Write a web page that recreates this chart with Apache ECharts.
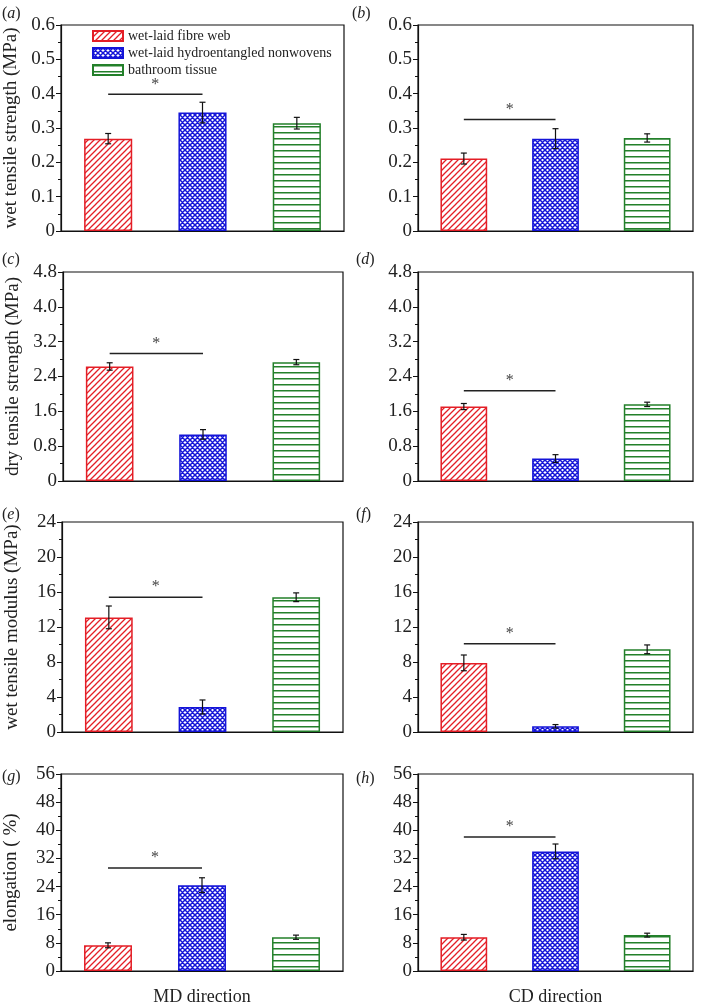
<!DOCTYPE html>
<html>
<head>
<meta charset="utf-8">
<script src="https://cdn.jsdelivr.net/npm/echarts@6/dist/echarts.min.js"></script>
<style>
html,body{margin:0;padding:0;background:#fff;}
#chart{width:701px;height:1007px;}
</style>
</head>
<body>
<div id="chart"></div>
<script>
// ---- data ----
const categories = ['wet-laid fibre web', 'wet-laid hydroentangled nonwovens', 'bathroom tissue'];
const panelLetters = ['a', 'b', 'c', 'd', 'e', 'f', 'g', 'h'];
const yMax = [0.6, 0.6, 4.8, 4.8, 24, 24, 56, 56];
const yInterval = [0.1, 0.1, 0.8, 0.8, 4, 4, 8, 8];
const yDecimals = [1, 1, 1, 1, 0, 0, 0, 0];
const yNames = ['wet tensile strength (MPa)', '', 'dry tensile strength (MPa)', '', 'wet tensile modulus (MPa)', '', 'elongation ( %)', ''];
const xNames = ['', '', '', '', '', '', 'MD direction', 'CD direction'];
const fibreWeb = [0.269, 0.211, 2.63, 1.71, 13.1, 7.9, 7.3, 9.6];
const fibreWebErr = [0.015, 0.016, 0.085, 0.07, 1.3, 0.9, 0.7, 0.8];
const hydro = [0.345, 0.269, 1.07, 0.515, 2.86, 0.65, 24.4, 34.0];
const hydroErr = [0.03, 0.029, 0.11, 0.09, 0.8, 0.2, 2.1, 2.1];
const tissue = [0.314, 0.271, 2.73, 1.76, 15.4, 9.45, 9.6, 10.2];
const tissueErr = [0.017, 0.012, 0.06, 0.05, 0.5, 0.5, 0.6, 0.55];
const sigLevel = [0.398, 0.325, 2.93, 2.07, 15.4, 10.1, 29.3, 38.1];

// ---- layout ----
const grids = [
  {left: 61, top: 25, width: 283, height: 206},
  {left: 418, top: 25, width: 275, height: 206},
  {left: 63, top: 272, width: 280, height: 209},
  {left: 418, top: 272, width: 275, height: 209},
  {left: 62, top: 522, width: 281, height: 210},
  {left: 418, top: 522, width: 275, height: 210},
  {left: 61, top: 774, width: 282, height: 206},
  {left: 418, top: 774, width: 275, height: 206}
];
const labelPos = [[2, 6], [352, 6], [2, 252], [356, 252], [2, 507], [356, 507], [2, 769], [356, 771]];

const FONT = "'Liberation Serif', 'Times New Roman', serif";
const RED = '#e41e26', BLUE = '#1414d8', GREEN = '#23802a';

function makePattern(kind) {
  const c = document.createElement('canvas');
  const ctx = c.getContext('2d');
  if (kind === 'red') {
    c.width = 6; c.height = 6;
    ctx.fillStyle = '#fff'; ctx.fillRect(0, 0, 6, 6);
    ctx.strokeStyle = RED; ctx.lineWidth = 1.3;
    ctx.beginPath();
    ctx.moveTo(-1, 7); ctx.lineTo(7, -1);
    ctx.moveTo(-4, 4); ctx.lineTo(4, -4);
    ctx.moveTo(2, 10); ctx.lineTo(10, 2);
    ctx.stroke();
  } else if (kind === 'blue') {
    c.width = 5; c.height = 5;
    ctx.fillStyle = '#fff'; ctx.fillRect(0, 0, 5, 5);
    ctx.strokeStyle = BLUE; ctx.lineWidth = 1.5;
    ctx.beginPath();
    ctx.moveTo(-1, 6); ctx.lineTo(6, -1);
    ctx.moveTo(-1, -1); ctx.lineTo(6, 6);
    ctx.moveTo(-3.5, 3.5); ctx.lineTo(3.5, -3.5);
    ctx.moveTo(1.5, 8.5); ctx.lineTo(8.5, 1.5);
    ctx.moveTo(-3.5, 1.5); ctx.lineTo(3.5, 8.5);
    ctx.moveTo(1.5, -3.5); ctx.lineTo(8.5, 3.5);
    ctx.stroke();
  } else {
    c.width = 4; c.height = 6;
    ctx.fillStyle = '#fff'; ctx.fillRect(0, 0, 4, 6);
    ctx.fillStyle = GREEN; ctx.fillRect(0, 0, 4, 1.5);
  }
  return {image: c, repeat: 'repeat'};
}
const patterns = [makePattern('red'), makePattern('blue'), makePattern('green')];
const borders = [RED, BLUE, GREEN];
const groupValues = [fibreWeb, hydro, tissue];
const groupErrs = [fibreWebErr, hydroErr, tissueErr];

const option = {
  animation: false,
  backgroundColor: '#fff',
  textStyle: {fontFamily: FONT},
  grid: [], xAxis: [], yAxis: [], series: [],
  legend: {
    data: categories,
    orient: 'vertical',
    left: 92, top: 29, padding: 0,
    icon: 'rect',
    itemWidth: 30, itemHeight: 10, itemGap: 3,
    textStyle: {fontFamily: FONT, fontSize: 14, color: '#222'},
    selectedMode: false
  },
  graphic: []
};

for (let p = 0; p < 8; p++) {
  const g = grids[p];
  const dec = yDecimals[p];
  option.grid.push(Object.assign({show: true, borderColor: '#111', borderWidth: 1.2, backgroundColor: 'transparent'}, g));
  option.xAxis.push({
    type: 'category', gridIndex: p, data: categories, boundaryGap: true,
    axisLine: {lineStyle: {color: '#111', width: 1.2}},
    axisTick: {show: false}, axisLabel: {show: false},
    name: xNames[p], nameLocation: 'middle', nameGap: 17,
    nameTextStyle: {fontFamily: FONT, fontSize: 18, color: '#222'}
  });
  option.yAxis.push({
    type: 'value', gridIndex: p, min: 0, max: yMax[p], interval: yInterval[p],
    axisLine: {show: true, lineStyle: {color: '#111', width: 1.2}},
    axisTick: {show: true, inside: false, length: 5, lineStyle: {color: '#111'}},
    minorTick: {show: true, splitNumber: 2, length: 3, lineStyle: {color: '#111'}},
    splitLine: {show: false},
    axisLabel: {fontFamily: FONT, fontSize: 19, color: '#222', margin: 6,
      formatter: function (v) { return v === 0 ? '0' : v.toFixed(dec); }},
    name: yNames[p], nameLocation: 'middle', nameGap: 40, nameRotate: 90,
    nameTextStyle: {fontFamily: FONT, fontSize: 19, color: '#222'}
  });
  for (let k = 0; k < 3; k++) {
    const d = ['-', '-', '-'];
    d[k] = groupValues[k][p];
    option.series.push({
      type: 'bar', name: categories[k], xAxisIndex: p, yAxisIndex: p,
      data: d, barWidth: '51%', barGap: '-100%',
      itemStyle: {color: patterns[k], borderColor: borders[k], borderWidth: 1.5},
      silent: true
    });
  }
  // error bars
  option.series.push({
    type: 'custom', xAxisIndex: p, yAxisIndex: p, z: 5, silent: true,
    data: [0, 1, 2].map(k => [k, groupValues[k][p], groupErrs[k][p]]),
    renderItem: function (params, api) {
      const x = api.value(0), v = api.value(1), e = api.value(2);
      const top = api.coord([x, v + e]);
      const bot = api.coord([x, v - e]);
      const s = {stroke: '#111', lineWidth: 1.2};
      const cw = 3;
      return {type: 'group', children: [
        {type: 'line', shape: {x1: top[0], y1: top[1], x2: bot[0], y2: bot[1]}, style: s},
        {type: 'line', shape: {x1: top[0] - cw, y1: top[1], x2: top[0] + cw, y2: top[1]}, style: s},
        {type: 'line', shape: {x1: bot[0] - cw, y1: bot[1], x2: bot[0] + cw, y2: bot[1]}, style: s}
      ]};
    }
  });
  // significance line
  option.series.push({
    type: 'custom', xAxisIndex: p, yAxisIndex: p, z: 5, silent: true,
    data: [[0, 1, sigLevel[p]]],
    renderItem: function (params, api) {
      const a = api.coord([api.value(0), api.value(2)]);
      const b = api.coord([api.value(1), api.value(2)]);
      return {type: 'group', children: [
        {type: 'line', shape: {x1: a[0], y1: a[1], x2: b[0], y2: b[1]}, style: {stroke: '#222', lineWidth: 1.5}},
        {type: 'text', x: (a[0] + b[0]) / 2, y: a[1] - 2,
          style: {text: '*', fontFamily: FONT, fontSize: 16, fill: '#444', align: 'center', verticalAlign: 'bottom'}}
      ]};
    }
  });
  option.graphic.push({
    type: 'text', left: labelPos[p][0], top: labelPos[p][1],
    style: {
      text: '{n|(}{i|' + panelLetters[p] + '}{n|)}',
      rich: {
        n: {fontFamily: FONT, fontSize: 16, fill: '#222'},
        i: {fontFamily: FONT, fontSize: 16, fontStyle: 'italic', fill: '#222'}
      }
    }
  });
}

const chart = echarts.init(document.getElementById('chart'), null, {renderer: 'canvas'});
chart.setOption(option);
</script>
</body>
</html>
